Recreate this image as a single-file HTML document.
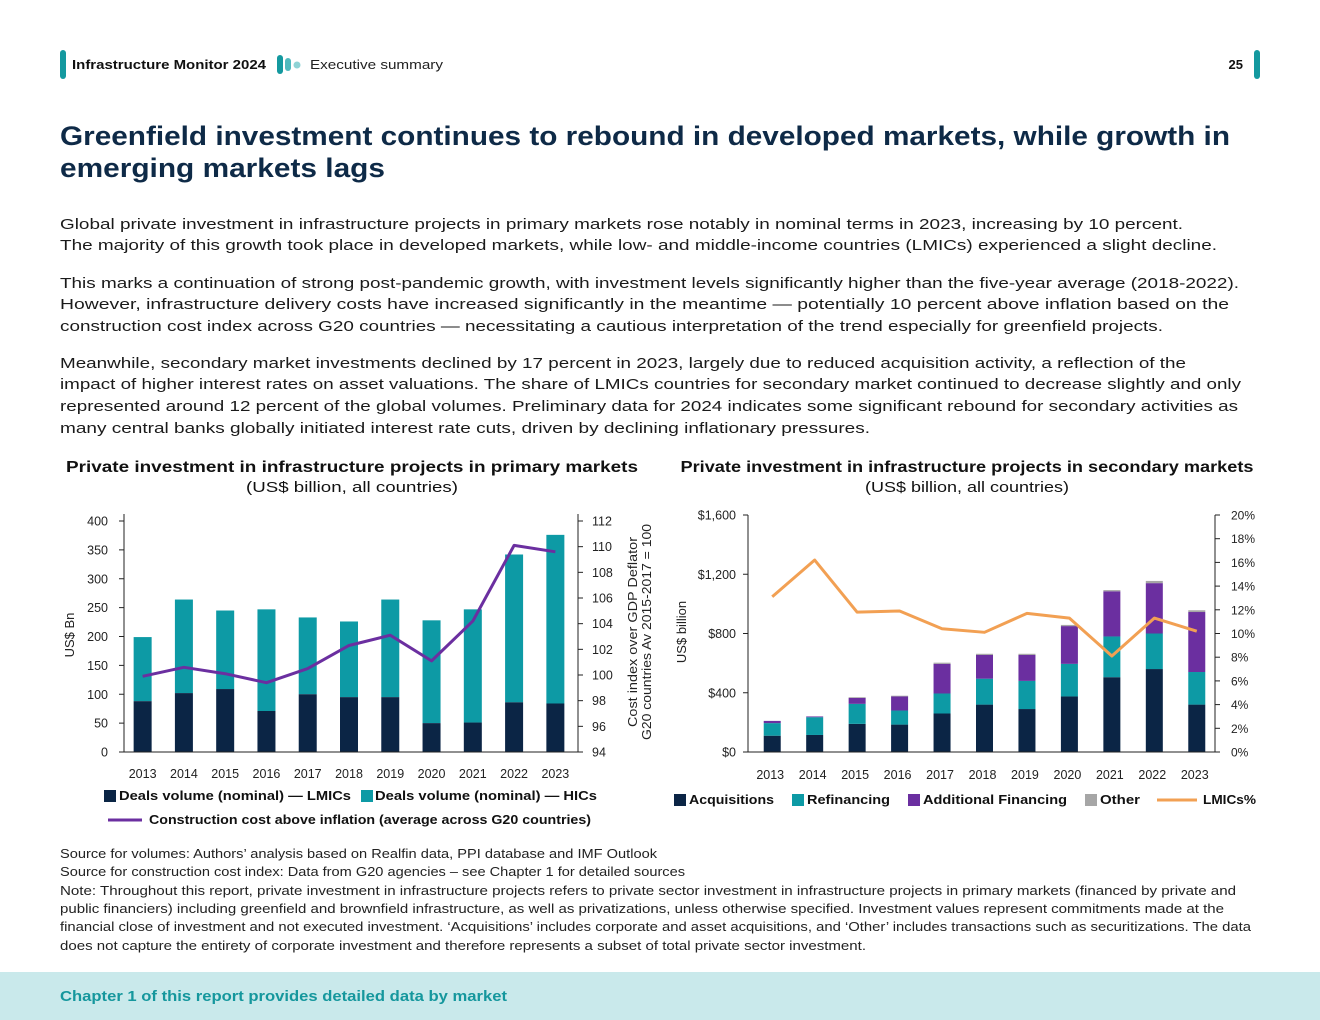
<!DOCTYPE html>
<html><head><meta charset="utf-8"><style>
html,body{margin:0;padding:0;background:#fff;}
svg{display:block;font-family:"Liberation Sans",sans-serif;}
</style></head><body>
<svg id="page" width="1320" height="1020" viewBox="0 0 1320 1020" xmlns="http://www.w3.org/2000/svg">
<rect x="0" y="972" width="1320" height="48" fill="#c9e9eb"/>
<g>
<rect x="60" y="50" width="6" height="29" rx="3" fill="#14999f"/>
<text x="72" y="69" font-size="13" font-weight="bold" fill="#111" textLength="194" lengthAdjust="spacingAndGlyphs">Infrastructure Monitor 2024</text>
<rect x="277" y="55" width="6" height="19" rx="3" fill="#14999f"/>
<rect x="285" y="58" width="6" height="13" rx="3" fill="#4fb9bd"/>
<circle cx="297" cy="65" r="3.5" fill="#8fd3d5"/>
<text x="310" y="69" font-size="13" fill="#222" textLength="133" lengthAdjust="spacingAndGlyphs">Executive summary</text>
<text x="1243" y="69" font-size="13" font-weight="bold" fill="#111" text-anchor="end">25</text>
<rect x="1254" y="50" width="6" height="29" rx="3" fill="#14999f"/>
</g>
<g font-weight="bold" font-size="27" fill="#0e2a47">
<text x="60" y="145" textLength="1170" lengthAdjust="spacingAndGlyphs">Greenfield investment continues to rebound in developed markets, while growth in</text>
<text x="60" y="177" textLength="325" lengthAdjust="spacingAndGlyphs">emerging markets lags</text>
</g>
<g font-size="15" fill="#1a1a1a">
<text x="60" y="229" textLength="1123" lengthAdjust="spacingAndGlyphs">Global private investment in infrastructure projects in primary markets rose notably in nominal terms in 2023, increasing by 10 percent.</text>
<text x="60" y="250" textLength="1157" lengthAdjust="spacingAndGlyphs">The majority of this growth took place in developed markets, while low- and middle-income countries (LMICs) experienced a slight decline.</text>
<text x="60" y="288" textLength="1179" lengthAdjust="spacingAndGlyphs">This marks a continuation of strong post-pandemic growth, with investment levels significantly higher than the five-year average (2018-2022).</text>
<text x="60" y="309" textLength="1169" lengthAdjust="spacingAndGlyphs">However, infrastructure delivery costs have increased significantly in the meantime — potentially 10 percent above inflation based on the</text>
<text x="60" y="331" textLength="1103" lengthAdjust="spacingAndGlyphs">construction cost index across G20 countries — necessitating a cautious interpretation of the trend especially for greenfield projects.</text>
<text x="60" y="368" textLength="1126" lengthAdjust="spacingAndGlyphs">Meanwhile, secondary market investments declined by 17 percent in 2023, largely due to reduced acquisition activity, a reflection of the</text>
<text x="60" y="389" textLength="1181" lengthAdjust="spacingAndGlyphs">impact of higher interest rates on asset valuations. The share of LMICs countries for secondary market continued to decrease slightly and only</text>
<text x="60" y="411" textLength="1178" lengthAdjust="spacingAndGlyphs">represented around 12 percent of the global volumes. Preliminary data for 2024 indicates some significant rebound for secondary activities as</text>
<text x="60" y="433" textLength="810" lengthAdjust="spacingAndGlyphs">many central banks globally initiated interest rate cuts, driven by declining inflationary pressures.</text>
</g>
<g text-anchor="middle" fill="#111">
<text x="352" y="472" font-size="16" font-weight="bold" textLength="572" lengthAdjust="spacingAndGlyphs">Private investment in infrastructure projects in primary markets</text>
<text x="352" y="492" font-size="15" textLength="212" lengthAdjust="spacingAndGlyphs">(US$ billion, all countries)</text>
<text x="967" y="472" font-size="16" font-weight="bold" textLength="573" lengthAdjust="spacingAndGlyphs">Private investment in infrastructure projects in secondary markets</text>
<text x="967" y="492" font-size="15" textLength="204" lengthAdjust="spacingAndGlyphs">(US$ billion, all countries)</text>
</g>
<g id="left"></g>
<g id="right"></g>
<g font-size="12.5" fill="#222">
<text x="60" y="858" textLength="597" lengthAdjust="spacingAndGlyphs">Source for volumes: Authors’ analysis based on Realfin data, PPI database and IMF Outlook</text>
<text x="60" y="876" textLength="625" lengthAdjust="spacingAndGlyphs">Source for construction cost index: Data from G20 agencies – see Chapter 1 for detailed sources</text>
<text x="60" y="895" textLength="1176" lengthAdjust="spacingAndGlyphs">Note: Throughout this report, private investment in infrastructure projects refers to private sector investment in infrastructure projects in primary markets (financed by private and</text>
<text x="60" y="913" textLength="1164" lengthAdjust="spacingAndGlyphs">public financiers) including greenfield and brownfield infrastructure, as well as privatizations, unless otherwise specified. Investment values represent commitments made at the</text>
<text x="60" y="931" textLength="1191" lengthAdjust="spacingAndGlyphs">financial close of investment and not executed investment. ‘Acquisitions’ includes corporate and asset acquisitions, and ‘Other’ includes transactions such as securitizations. The data</text>
<text x="60" y="950" textLength="806" lengthAdjust="spacingAndGlyphs">does not capture the entirety of corporate investment and therefore represents a subset of total private sector investment.</text>
</g>
<text x="60" y="1001" font-size="14.5" font-weight="bold" fill="#15979d" textLength="447" lengthAdjust="spacingAndGlyphs">Chapter 1 of this report provides detailed data by market</text>
</svg>
<script>
const years = ["2013","2014","2015","2016","2017","2018","2019","2020","2021","2022","2023"];
// Left chart data
const lmicVolume = [88,102,109,71,100,95,95,50,51,86,84];
const totalVolume = [199,264,245,247,233,226,264,228,247,342,376];
const costIndex = [99.9,100.6,100.1,99.4,100.5,102.3,103.1,101.1,104.2,110.1,109.6];
const leftTicks = [0,50,100,150,200,250,300,350,400];
const leftRightTicks = [94,96,98,100,102,104,106,108,110,112];
// Right chart data
const acquisitions = [110,115,190,185,260,320,290,375,505,560,320];
const refinancing = [85,120,135,95,135,175,190,220,275,240,220];
const additionalFinancing = [15,5,40,95,200,160,175,255,305,340,405];
const otherDeals = [0,0,5,5,8,8,8,8,8,15,12];
const lmicShare = [13.1,16.2,11.8,11.9,10.4,10.1,11.7,11.3,8.1,11.3,10.2];
const rightTicks = [0,400,800,1200,1600];
const rightTickLabels = ["$0","$400","$800","$1,200","$1,600"];
const pctTicks = [0,2,4,6,8,10,12,14,16,18,20];

const NS="http://www.w3.org/2000/svg";
function mk(parent,tag,attrs,text){const e=document.createElementNS(NS,tag);for(const k in attrs)e.setAttribute(k,attrs[k]);if(text!==undefined)e.textContent=text;parent.appendChild(e);return e;}
const NAVY="#0b2545",TEAL="#0d9aa5",PURPLE="#6b2fa0",ORANGE="#f2a053",GRAY="#a6a6a6";

// ---- Left chart ----
(function(){
 const g=document.getElementById('left');
 const x0=124,x1=578,yB=752,yT=521;
 const y=v=>yB-(v/400)*(yB-yT);
 const y2=v=>yB-((v-94)/18)*(yB-yT);
 const step=(x1-x0)/years.length;
 const cx=i=>x0+step*(i+0.5)-2;
 const bw=18;
 years.forEach((yr,i)=>{
  let r=mk(g,'rect',{x:cx(i)-bw/2,y:y(totalVolume[i]),width:bw,height:y(lmicVolume[i])-y(totalVolume[i]),fill:TEAL});
  
  
  r=mk(g,'rect',{x:cx(i)-bw/2,y:y(lmicVolume[i]),width:bw,height:yB-y(lmicVolume[i]),fill:NAVY});
  
  
  const t=mk(g,'text',{x:cx(i),y:778,'font-size':12.5,'text-anchor':'middle',fill:'#222'},yr);
  
  
 });
 const pts=costIndex.map((v,i)=>cx(i)+','+y2(v)).join(' ');
 const pl=mk(g,'polyline',{points:pts,fill:'none',stroke:PURPLE,'stroke-width':3,'stroke-linejoin':'round'});
 
 
 mk(g,'line',{x1:x0,y1:514,x2:x0,y2:yB,stroke:'#222','stroke-width':1});
 mk(g,'line',{x1:x0-5,y1:yB,x2:x1,y2:yB,stroke:'#222','stroke-width':1});
 mk(g,'line',{x1:x1,y1:514,x2:x1,y2:yB,stroke:'#222','stroke-width':1});
 leftTicks.forEach(v=>{mk(g,'line',{x1:x0-5,y1:y(v),x2:x0,y2:y(v),stroke:'#222'});
  const t=mk(g,'text',{x:108,y:y(v)+4.5,'font-size':12.5,'text-anchor':'end',fill:'#222'},v);
  
  });
 leftRightTicks.forEach(v=>{mk(g,'line',{x1:x1,y1:y2(v),x2:x1+5,y2:y2(v),stroke:'#222'});
  const t=mk(g,'text',{x:592,y:y2(v)+4.5,'font-size':12.5,fill:'#222'},v);
  
  });
 let t=mk(g,'text',{x:0,y:0,'font-size':13,'text-anchor':'middle',fill:'#222',transform:'translate(74,635) rotate(-90)'},'US$ Bn');
 
 
 t=mk(g,'text',{x:0,y:0,'font-size':13,'text-anchor':'middle',fill:'#222',transform:'translate(637,632) rotate(-90)',textLength:190,lengthAdjust:'spacingAndGlyphs'},'Cost index over GDP Deflator');
 
 
 t=mk(g,'text',{x:0,y:0,'font-size':13,'text-anchor':'middle',fill:'#222',transform:'translate(651,632) rotate(-90)',textLength:216,lengthAdjust:'spacingAndGlyphs'},'G20 countries Av 2015-2017 = 100');
 
 
 // legend
 const lg=mk(g,'g',{'font-size':13,'font-weight':'bold',fill:'#111'});
 
 
 mk(lg,'rect',{x:104,y:790,width:12,height:12,fill:NAVY});
 mk(lg,'text',{x:119,y:800,textLength:232,lengthAdjust:'spacingAndGlyphs'},'Deals volume (nominal) — LMICs');
 mk(lg,'rect',{x:361,y:790,width:12,height:12,fill:TEAL});
 mk(lg,'text',{x:375,y:800,textLength:222,lengthAdjust:'spacingAndGlyphs'},'Deals volume (nominal) — HICs');
 mk(lg,'line',{x1:108,y1:820,x2:142,y2:820,stroke:PURPLE,'stroke-width':3});
 mk(lg,'text',{x:149,y:824,textLength:442,lengthAdjust:'spacingAndGlyphs'},'Construction cost above inflation (average across G20 countries)');
})();

// ---- Right chart ----
(function(){
 const g=document.getElementById('right');
 const x0=748,x1=1215,yB=752,yT=515;
 const y=v=>yB-(v/1600)*(yB-yT);
 const y2=v=>yB-(v/20)*(yB-yT);
 const step=(x1-x0)/years.length;
 const cx=i=>x0+step*(i+0.5)+3;
 const bw=17;
 years.forEach((yr,i)=>{
  const segs=[[acquisitions[i],NAVY,'acquisitions'],[refinancing[i],TEAL,'refinancing'],[additionalFinancing[i],PURPLE,'additional-financing'],[otherDeals[i],GRAY,'other']];
  let base=0;
  segs.forEach(s=>{
   const r=mk(g,'rect',{x:cx(i)-bw/2,y:y(base+s[0]),width:bw,height:y(base)-y(base+s[0]),fill:s[1]});
   
   
   base+=s[0];
  });
  const t=mk(g,'text',{x:cx(i)-2,y:779,'font-size':12.5,'text-anchor':'middle',fill:'#222'},yr);
  
  
 });
 const pts=lmicShare.map((v,i)=>cx(i)+','+y2(v)).join(' ');
 const pl=mk(g,'polyline',{points:pts,fill:'none',stroke:ORANGE,'stroke-width':3,'stroke-linejoin':'round'});
 
 
 mk(g,'line',{x1:x0,y1:yT,x2:x0,y2:yB,stroke:'#222'});
 mk(g,'line',{x1:x0-5,y1:yB,x2:x1,y2:yB,stroke:'#222'});
 mk(g,'line',{x1:x1,y1:yT,x2:x1,y2:yB,stroke:'#222'});
 rightTicks.forEach((v,k)=>{mk(g,'line',{x1:x0-5,y1:y(v),x2:x0,y2:y(v),stroke:'#222'});
  const t=mk(g,'text',{x:736,y:y(v)+4.5,'font-size':12.5,'text-anchor':'end',fill:'#222'},rightTickLabels[k]);
  
  });
 pctTicks.forEach(v=>{mk(g,'line',{x1:x1,y1:y2(v),x2:x1+5,y2:y2(v),stroke:'#222'});
  const t=mk(g,'text',{x:1231,y:y2(v)+4.5,'font-size':12,fill:'#222'},v+'%');
  
  });
 let t=mk(g,'text',{x:0,y:0,'font-size':13,'text-anchor':'middle',fill:'#222',transform:'translate(686,632) rotate(-90)'},'US$ billion');
 
 
 const lg=mk(g,'g',{'font-size':13,'font-weight':'bold',fill:'#111'});
 
 
 mk(lg,'rect',{x:674,y:794,width:12,height:12,fill:NAVY});
 mk(lg,'text',{x:689,y:804,textLength:85,lengthAdjust:'spacingAndGlyphs'},'Acquisitions');
 mk(lg,'rect',{x:792,y:794,width:12,height:12,fill:TEAL});
 mk(lg,'text',{x:807,y:804,textLength:83,lengthAdjust:'spacingAndGlyphs'},'Refinancing');
 mk(lg,'rect',{x:908,y:794,width:12,height:12,fill:PURPLE});
 mk(lg,'text',{x:923,y:804,textLength:144,lengthAdjust:'spacingAndGlyphs'},'Additional Financing');
 mk(lg,'rect',{x:1085,y:794,width:12,height:12,fill:GRAY});
 mk(lg,'text',{x:1100,y:804,textLength:40,lengthAdjust:'spacingAndGlyphs'},'Other');
 mk(lg,'line',{x1:1157,y1:800,x2:1197,y2:800,stroke:ORANGE,'stroke-width':3});
 mk(lg,'text',{x:1203,y:804,textLength:53,lengthAdjust:'spacingAndGlyphs'},'LMICs%');
})();
</script>
</body></html>
